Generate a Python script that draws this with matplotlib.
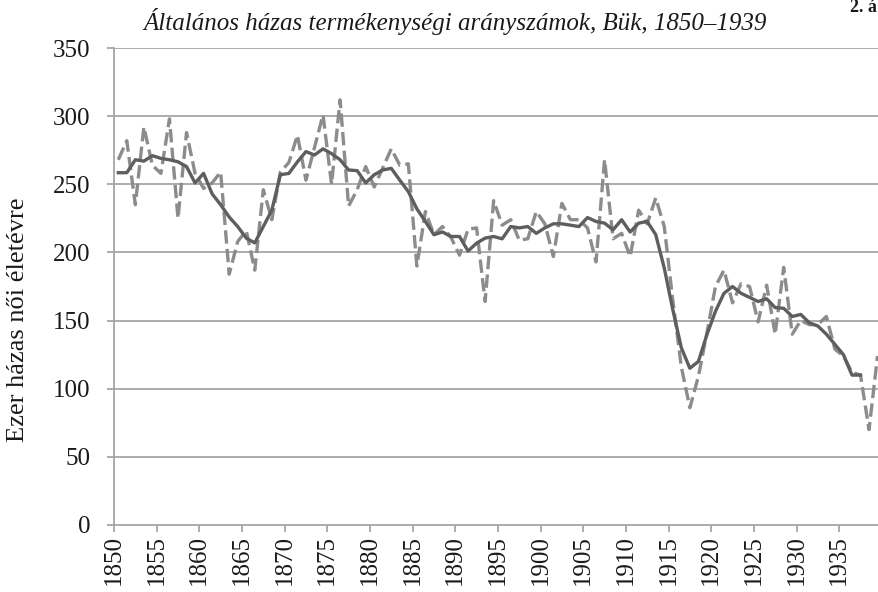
import numpy as np
import matplotlib.pyplot as plt

plt.rcParams['font.family'] = ['Liberation Serif', 'DejaVu Serif']

# Years and values
years = list(range(1850, 1940))

# annual general marital fertility rate (dashed line)
annual = [268, 282, 235, 292, 264, 258, 298, 225, 288, 258,
          247, 251, 259, 184, 208, 216, 187, 246, 224, 259,
          266, 286, 253, 277, 301, 250, 312, 234, 246, 263,
          248, 262, 276, 264, 265, 190, 230, 213, 219, 211,
          198, 217, 218, 164, 238, 220, 224, 209, 210, 230,
          221, 197, 236, 224, 224, 218, 193, 268, 210, 214,
          197, 231, 221, 240, 219, 165, 116, 86, 109, 141,
          175, 187, 163, 177, 175, 149, 176, 140, 189, 140,
          150, 147, 147, 153, 129, 124, 112, 110, 70, 124]

# smoothed series (solid line), no values for the last two years
smoothed = [258.5, 258.5, 268, 267, 271, 269, 268, 266.5, 263, 251,
            258, 243, 235, 226, 219, 210.5, 207, 219, 231, 257,
            258, 266.5, 274, 271.5, 276, 272.5, 268, 260.5, 260, 251,
            257, 260.5, 261.7, 253, 244.6, 232, 222.7, 213, 215, 211.7,
            211.7, 201, 206.8, 210.5, 211.7, 210, 219, 218, 219, 214,
            218, 221, 221, 220, 219, 225.6, 222.7, 221.5, 216.6, 224,
            215, 221.5, 222.7, 213, 188.5, 158, 130, 115, 120, 139.7,
            156.8, 170, 175, 170, 167, 164, 166, 159.5, 159, 153,
            154.5, 148.4, 146, 140, 132.5, 125, 110, 110, np.nan, np.nan]

tick_years = list(range(1850, 1940, 5))
y_ticks = [0, 50, 100, 150, 200, 250, 300, 350]

fig = plt.figure(figsize=(8.79, 5.92), dpi=100)
ax = fig.add_axes([0.1297, 0.1132, 0.8735, 0.8057])

grid_col = '#a6a6a6'
for v in y_ticks[1:]:
    ax.axhline(v, color=grid_col, lw=1.3, zorder=1)

ax.plot(years, annual, color='#8c8c8c', lw=2.4, dashes=(4, 1.6), zorder=3)
ax.plot(years, smoothed, color='#5e5e5e', lw=2.4, zorder=4)

ax.set_xlim(1849.5, 1939.5)
ax.set_ylim(0, 350)
ax.set_xticks([y - 0.5 for y in tick_years])
ax.set_xticklabels([str(y) for y in tick_years], rotation=90, fontsize=18)
ax.set_yticks(y_ticks)
ax.set_yticklabels([str(v) for v in y_ticks], fontsize=18)

for s in ['top', 'right']:
    ax.spines[s].set_visible(False)
for s in ['left', 'bottom']:
    ax.spines[s].set_color(grid_col)
    ax.spines[s].set_linewidth(1.3)
ax.tick_params(axis='both', direction='out', length=5, width=1.3, color=grid_col, labelcolor='#1a1a1a')
ax.tick_params(axis='y', pad=12)
ax.tick_params(axis='x', pad=2)

fig.text(0.5176, 0.963, 'Általános házas termékenységi arányszámok, Bük, 1850–1939',
         ha='center', va='center', fontsize=18, style='italic', color='#1a1a1a')
fig.text(0.021, 0.46, 'Ezer házas női életévre', rotation=90, ha='center', va='center',
         fontsize=19, color='#1a1a1a')
fig.text(0.998, 0.988, '2. á', ha='right', va='center', fontsize=13,
         fontweight='bold', color='#1a1a1a')

fig.savefig('out.png', dpi=100)
